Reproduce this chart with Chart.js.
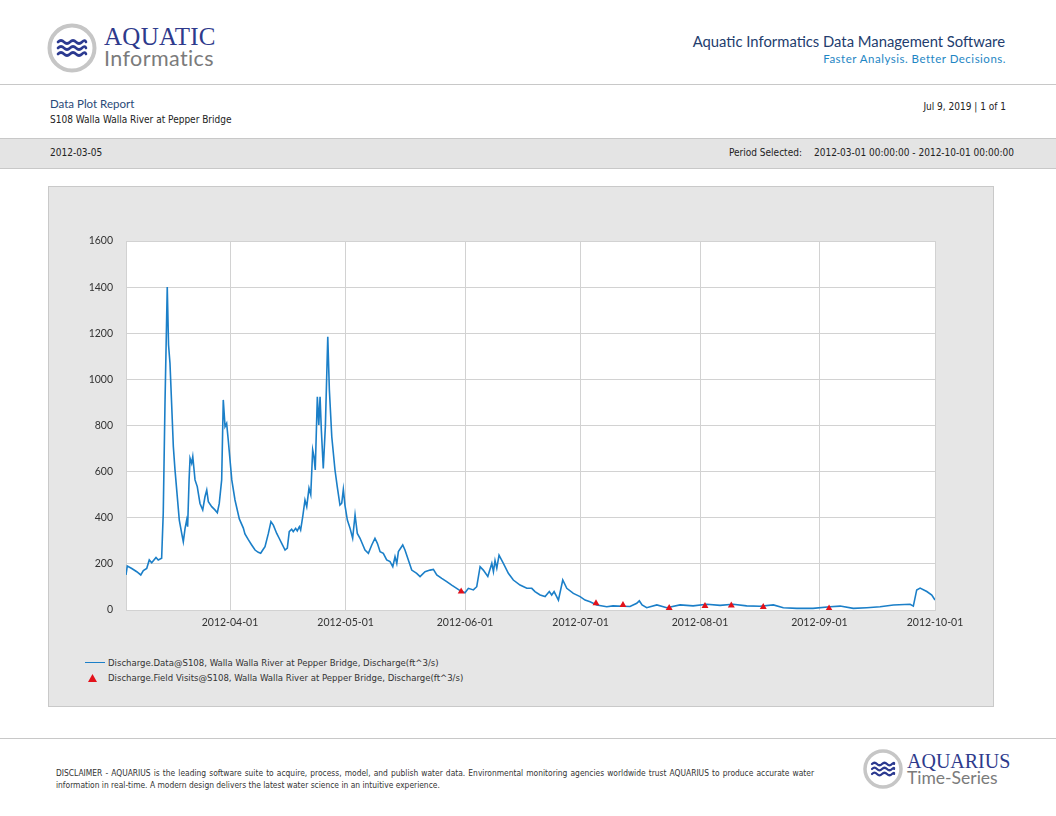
<!DOCTYPE html>
<html>
<head>
<meta charset="utf-8">
<script src="https://cdn.jsdelivr.net/npm/chart.js@4.4.1/dist/chart.umd.min.js"></script>
<style>
  body { margin: 0; background: #fff; width: 1056px; height: 816px; position: relative; overflow: hidden; font-family: 'Liberation Sans Narrow', 'DejaVu Sans Condensed', sans-serif; color: #222; }
  .abs { position: absolute; white-space: nowrap; }
  .hline { position: absolute; left: 0; width: 1056px; height: 0; border-top: 1px solid #c8c8c8; }
  #band { position: absolute; left: 0; top: 138px; width: 1056px; height: 29px; background: #e4e4e4; border-top: 1px solid #c8c8c8; border-bottom: 1px solid #c8c8c8; }
  #panel { position: absolute; left: 48px; top: 186px; width: 944px; height: 519px; background: #e6e6e6; border: 1px solid #c9c9c9; }
  #chart { position: absolute; left: 49px; top: 187px; }
  .serif { font-family: 'Liberation Serif', 'DejaVu Serif', serif; }
  .lato { font-family: Lato, 'Open Sans', sans-serif; }
</style>
</head>
<body>
<!-- header -->
<svg class="abs" style="left:46px;top:22px" width="52" height="52" viewBox="0 0 52 52">
  <circle cx="26" cy="26" r="22.5" fill="#fff" stroke="#c6c6c6" stroke-width="4"/>
  <g fill="none" stroke="#2b3990" stroke-width="2.6" stroke-linecap="round">
    <path d="M12 20 q3 -3 6 0 t6 0 t6 0 t6 0 t4 0"/>
    <path d="M12 26 q3 -3 6 0 t6 0 t6 0 t6 0 t4 0"/>
    <path d="M12 32 q3 -3 6 0 t6 0 t6 0 t6 0 t4 0"/>
  </g>
</svg>
<div class="abs serif" style="left:104px;top:23px;font-size:25px;color:#2e3a8c;letter-spacing:0.3px">AQUATIC</div>
<div class="abs lato" style="left:104px;top:45px;font-size:21.5px;color:#7b7b7b;letter-spacing:0.4px">Informatics</div>
<div class="abs lato" style="right:51px;top:32px;font-size:14.8px;color:#233d6e">Aquatic Informatics Data Management Software</div>
<div class="abs lato" style="right:50px;top:52px;font-size:11.5px;color:#1e86c4;letter-spacing:0.5px">Faster Analysis. Better Decisions.</div>
<div class="hline" style="top:84px"></div>

<div class="abs lato" style="left:50px;top:97px;font-size:11.5px;color:#2a4a78">Data Plot Report</div>
<div class="abs" style="left:50px;top:114px;font-size:10px">S108 Walla Walla River at Pepper Bridge</div>
<div class="abs" style="right:50px;top:101px;font-size:10px">Jul 9, 2019 | 1 of 1</div>

<div id="band"></div>
<div class="abs" style="left:50px;top:147px;font-size:10px">2012-03-05</div>
<div class="abs" style="left:729px;top:147px;font-size:10px">Period Selected:</div>
<div class="abs" style="right:42px;top:147px;font-size:10px">2012-03-01 00:00:00 - 2012-10-01 00:00:00</div>

<div id="panel"></div>
<canvas id="chart" width="944" height="453"></canvas>

<!-- legend -->
<div class="abs" style="left:85px;top:662px;width:20px;border-top:1.5px solid #1b7fc8"></div>
<div class="abs" style="left:108px;top:657px;font-size:9.5px;color:#333" id="leg1"></div>
<svg class="abs" style="left:88px;top:674px" width="9" height="8"><polygon points="4.5,0 9,8 0,8" fill="#e3121b"/></svg>
<div class="abs" style="left:108px;top:672px;font-size:9.5px;color:#333" id="leg2"></div>

<!-- footer -->
<div class="hline" style="top:738px"></div>
<div class="abs" style="left:56px;top:767px;width:758px;font-size:8.4px;line-height:12px;white-space:normal;text-align:justify;text-align-last:left;color:#333">DISCLAIMER - AQUARIUS is the leading software suite to acquire, process, model, and publish water data. Environmental monitoring agencies worldwide trust AQUARIUS to produce accurate water information in real-time. A modern design delivers the latest water science in an intuitive experience.</div>
<svg class="abs" style="left:862px;top:748px" width="42" height="42" viewBox="0 0 42 42">
  <circle cx="21" cy="21" r="18" fill="#fff" stroke="#c6c6c6" stroke-width="3.5"/>
  <g fill="none" stroke="#2b3990" stroke-width="2.2" stroke-linecap="round">
    <path d="M10 16 q2.5 -2.5 5 0 t5 0 t5 0 t5 0 t2 0"/>
    <path d="M10 21 q2.5 -2.5 5 0 t5 0 t5 0 t5 0 t2 0"/>
    <path d="M10 26 q2.5 -2.5 5 0 t5 0 t5 0 t5 0 t2 0"/>
  </g>
</svg>
<div class="abs serif" style="left:907px;top:750px;font-size:20px;color:#2e3a8c">AQUARIUS</div>
<div class="abs lato" style="left:907px;top:767px;font-size:17.5px;color:#7b7b7b">Time-Series</div>

<script>
// discharge record, 2012 (MM-DD HH), ft^3/s
const flowTimes = [
  '03-05 00','03-05 08','03-06 12','03-07 19','03-08 20','03-09 12','03-10 09','03-11 01','03-11 16','03-12 19',
  '03-13 09','03-14 06','03-14 16','03-15 03','03-15 17','03-16 01','03-16 10','03-16 21','03-17 07','03-17 17',
  '03-18 04','03-18 20','03-19 11','03-19 21','03-20 08','03-20 18','03-21 00','03-21 09','03-21 15','03-22 01',
  '03-22 08','03-22 22','03-23 12','03-24 05','03-24 22','03-25 12','03-25 23','03-26 09','03-27 06','03-28 02',
  '03-28 17','03-29 05','03-29 20','03-30 06','03-30 17','03-31 03','03-31 13','04-01 11','04-02 07','04-03 10',
  '04-04 11','04-04 21','04-05 18','04-06 15','04-07 12','04-08 08','04-08 23','04-09 12','04-10 02','04-10 23',
  '04-11 15','04-12 06','04-13 03','04-13 19','04-14 10','04-15 07','04-15 21','04-16 09','04-17 00','04-17 10',
  '04-18 01','04-18 11','04-19 00','04-19 08','04-19 21','04-20 11','04-20 22','04-21 12','04-21 23','04-22 11',
  '04-22 19','04-23 03','04-23 16','04-24 01','04-24 09','04-24 17','04-25 05','04-25 18','04-26 09','04-26 19',
  '04-27 10','04-28 06','04-28 20','04-29 13','04-30 00','04-30 10','04-30 20','05-01 11','05-02 04','05-02 20',
  '05-03 11','05-04 01','05-04 18','05-06 01','05-06 22','05-07 19','05-08 15','05-09 06','05-09 23','05-10 19',
  '05-11 16','05-12 13','05-13 06','05-13 20','05-14 07','05-14 17','05-15 20','05-16 10','05-17 07','05-18 04',
  '05-19 11','05-20 08','05-21 15','05-22 22','05-23 19','05-24 16','05-25 23','05-27 06','05-28 13','05-29 20',
  '05-30 17','06-01 00','06-01 21','06-03 04','06-04 01','06-04 22','06-05 18','06-06 22','06-07 23','06-08 09',
  '06-08 19','06-09 06','06-09 20','06-10 23','06-12 06','06-13 13','06-15 07','06-17 01','06-18 08','06-19 04',
  '06-20 12','06-21 19','06-22 21','06-23 12','06-24 03','06-25 06','06-26 09','06-27 10','06-29 03','06-30 21',
  '07-02 04','07-03 11','07-05 05','07-07 19','07-09 10','07-12 00','07-13 20','07-15 14','07-16 06','07-16 23',
  '07-18 04','07-20 19','07-23 09','07-26 20','07-30 05','08-02 18','08-06 05','08-09 14','08-13 03','08-16 14',
  '08-20 01','08-22 15','08-26 03','08-30 08','09-03 18','09-06 09','09-09 19','09-13 07','09-16 18','09-20 05',
  '09-24 13','09-25 09','09-26 06','09-27 03','09-28 21','09-30 04','10-01 00'
];
const flowValues = [
  152, 191, 180, 166, 152, 171, 180, 217, 205, 228,
  217, 224, 419, 900, 1400, 1150, 1070, 881, 708, 610,
  520, 390, 332, 296, 354, 390, 361, 564, 658, 636,
  665, 564, 535, 462, 434, 491, 520, 470, 448, 434,
  422, 462, 564, 911, 795, 809, 737, 564, 477, 395,
  355, 330, 305, 282, 260, 250, 246, 260, 275, 332,
  383, 368, 332, 310, 289, 260, 268, 340, 350, 340,
  354, 343, 361, 347, 405, 477, 448, 528, 500, 694,
  665, 607, 925, 802, 925, 780, 614, 795, 1185, 954,
  751, 607, 535, 455, 463, 523, 455, 390, 354, 311,
  412, 332, 311, 260, 246, 282, 311, 289, 253, 246,
  217, 210, 188, 231, 202, 253, 282, 260, 217, 173,
  159, 145, 166, 173, 176, 152, 137, 123, 108, 94,
  84, 75, 94, 87, 101, 188, 173, 145, 202, 166,
  214, 181, 238, 202, 159, 130, 108, 94, 94, 80,
  65, 58, 80, 65, 80, 43, 130, 94, 72, 58,
  43, 36, 22, 14, 18, 16, 15, 29, 40, 22,
  10, 22, 10, 22, 18, 25, 20, 25, 18, 16,
  22, 10, 7, 7, 14, 17, 7, 10, 14, 22,
  25, 17, 87, 95, 80, 65, 43
];
// field visit measurements
const visitTimes = ['05-31 00','07-05 00','07-12 00','07-24 00','08-02 07','08-09 03','08-17 10','09-03 12'];
const visitValues = [80, 29, 22, 9, 17, 20, 13, 7];

const monthTicks = ['2012-04-01','2012-05-01','2012-06-01','2012-07-01','2012-08-01','2012-09-01','2012-10-01'];
const periodStart = '2012-03-05';
const periodEnd = '2012-10-01';

const seriesNames = [
  'Discharge.Data@S108, Walla Walla River at Pepper Bridge, Discharge(ft^3/s)',
  'Discharge.Field Visits@S108, Walla Walla River at Pepper Bridge, Discharge(ft^3/s)'
];
document.getElementById('leg1').textContent = seriesNames[0];
document.getElementById('leg2').textContent = seriesNames[1];

const toTime = (s) => {
  let [md, hh] = s.split(' ');
  let [m, d] = md.split('-').map(Number);
  return Date.UTC(2012, m - 1, d, Number(hh));
};
const dayTime = (s) => Date.parse(s + 'T00:00:00Z');
const tickValues = monthTicks.map(dayTime);

const plotBg = {
  id: 'plotBg',
  beforeDraw(chart) {
    let { ctx, chartArea: a } = chart;
    ctx.save();
    ctx.fillStyle = '#fff';
    ctx.fillRect(a.left, a.top, a.right - a.left, a.bottom - a.top);
    ctx.restore();
  }
};

new Chart(document.getElementById('chart'), {
  type: 'line',
  data: {
    datasets: [
      {
        label: seriesNames[0],
        data: flowTimes.map((t, i) => ({ x: toTime(t), y: flowValues[i] })),
        borderColor: '#1b7fc8',
        borderWidth: 1.6,
        pointRadius: 0,
        tension: 0,
        order: 2
      },
      {
        label: seriesNames[1],
        data: visitTimes.map((t, i) => ({ x: toTime(t), y: visitValues[i] })),
        showLine: false,
        pointStyle: 'triangle',
        pointRadius: 4,
        backgroundColor: '#e3121b',
        borderColor: '#e3121b',
        borderWidth: 0,
        order: 1
      }
    ]
  },
  options: {
    responsive: false,
    animation: false,
    layout: { padding: { left: 0, top: 54, right: 58, bottom: 0 } },
    plugins: { legend: { display: false }, tooltip: { enabled: false } },
    scales: {
      x: {
        type: 'linear',
        min: dayTime(periodStart),
        max: dayTime(periodEnd),
        afterBuildTicks: (s) => { s.ticks = tickValues.map((v) => ({ value: v })); },
        afterFit: (s) => { s.height = 30; },
        grid: { color: '#d2d2d2', drawTicks: false },
        border: { color: '#d2d2d2' },
        ticks: {
          padding: 6,
          maxRotation: 0,
          color: '#333',
          font: { family: 'Lato', size: 10.5 },
          callback: (v) => monthTicks[tickValues.indexOf(v)]
        }
      },
      y: {
        min: 0,
        max: 1600,
        afterFit: (s) => { s.width = 77; },
        grid: { color: '#d2d2d2', drawTicks: false },
        border: { color: '#d2d2d2' },
        ticks: {
          stepSize: 200,
          padding: 13,
          color: '#333',
          font: { family: 'Lato', size: 10.5 },
          callback: (v) => String(v)
        }
      }
    }
  },
  plugins: [plotBg]
});
</script>
</body>
</html>
